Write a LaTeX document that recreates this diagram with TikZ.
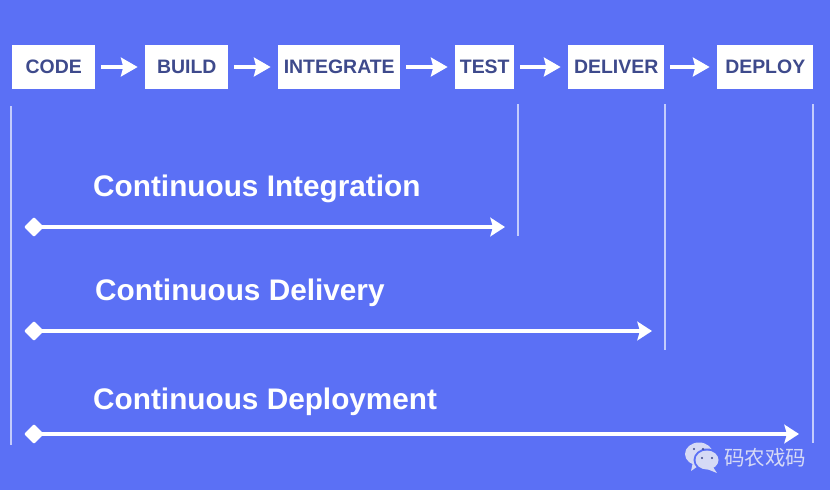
\documentclass[tikz,border=0pt]{standalone}
\usepackage{fontspec}
\setmainfont{Liberation Sans}
\newfontfamily\cjkfont{Noto Sans CJK SC}
\usetikzlibrary{arrows.meta,positioning,calc,shapes.geometric}
\definecolor{bgblue}{RGB}{91,112,245}
\definecolor{stageink}{RGB}{62,74,140}
\definecolor{ruleblue}{RGB}{196,204,252}
\definecolor{markgrey}{RGB}{214,218,245}

\begin{document}
\begin{tikzpicture}[
  x=0.03cm, y=-0.03cm,
  stage/.style  = {fill=white, text=stageink, font=\fontsize{16.6}{18}\selectfont\bfseries,
                   minimum height=1.32cm, inner sep=0pt, anchor=west},
  flow/.style   = {-{Stealth[length=5mm,width=5.6mm,inset=0.7mm]}, line width=1.4mm, white,
                   shorten <=1.6mm, shorten >=2.2mm},
  span/.style   = {-{Stealth[length=4.4mm,width=5.6mm,inset=0.8mm]}, line width=1mm, white},
  tick/.style   = {ruleblue, line width=0.45mm},
  gem/.style    = {diamond, fill=white, inner sep=0pt, minimum size=6mm, rounded corners=0.3mm},
  capt/.style   = {text=white, font=\fontsize{25.4}{28}\selectfont\bfseries, anchor=west, inner sep=0pt},
]
\fill[bgblue] (0,0) rectangle (830,490);
\useasboundingbox (0,0) rectangle (830,490);

% ----------------------------- pipeline stages ----------------------------
\node[stage, minimum width=2.49cm] (code)  at (12,67)  {CODE};
\node[stage, minimum width=2.49cm] (build) at (145,67) {BUILD};
\node[stage, minimum width=3.66cm] (integ) at (278,67) {INTEGRATE};
\node[stage, minimum width=1.77cm] (test)  at (455,67) {TEST};
\node[stage, minimum width=2.88cm] (deliv) at (568,67) {DELIVER};
\node[stage, minimum width=2.88cm] (deplo) at (717,67) {DEPLOY};

\draw[flow] (code)  -- (build);
\draw[flow] (build) -- (integ);
\draw[flow] (integ) -- (test);
\draw[flow] (test)  -- (deliv);
\draw[flow] (deliv) -- (deplo);

% ----------------------------- vertical rules -----------------------------
\coordinate (t0a) at (11,106);  \coordinate (t0b) at (11,445);
\coordinate (t1a) at (518,104); \coordinate (t1b) at (518,236);
\coordinate (t2a) at (665,104); \coordinate (t2b) at (665,350);
\coordinate (t3a) at (813,104); \coordinate (t3b) at (813,443);
\draw[tick] (t0a) -- (t0b);
\draw[tick] (t1a) -- (t1b);
\draw[tick] (t2a) -- (t2b);
\draw[tick] (t3a) -- (t3b);

% ----------------------------- spans --------------------------------------
\node[capt] (ci) at (93,189) {Continuous Integration};
\node[gem] (s1) at (34,227) {};
\coordinate (e1) at (505,227);
\draw[span] (s1.center) -- (e1);

\node[capt] (cd) at (95,293) {Continuous Delivery};
\node[gem] (s2) at (34,331) {};
\coordinate (e2) at (652,331);
\draw[span] (s2.center) -- (e2);

\node[capt] (cp) at (93,402) {Continuous Deployment};
\node[gem] (s3) at (34,434) {};
\coordinate (e3) at (799,434);
\draw[span] (s3.center) -- (e3);

% ----------------------------- watermark ----------------------------------
\fill[markgrey] (699,454) ellipse (14 and 11.5);
\fill[markgrey] (693,462) -- (691,471) -- (701,464) -- cycle;
\fill[bgblue] (707,460) ellipse (13.5 and 11.5);
\fill[markgrey] (707,460) ellipse (11.5 and 9.5);
\fill[markgrey] (713,467) -- (717,473) -- (707,469) -- cycle;
\fill[stageink] (694,449) circle (1.2) (703,449) circle (1.2)
                (702,458) circle (1.2) (712,458) circle (1.2);
\node[text=markgrey, font=\cjkfont\fontsize{17.5}{20}\selectfont, inner sep=0pt, anchor=west] (wm) at (724,458) {码农戏码};
\end{tikzpicture}
\end{document}
